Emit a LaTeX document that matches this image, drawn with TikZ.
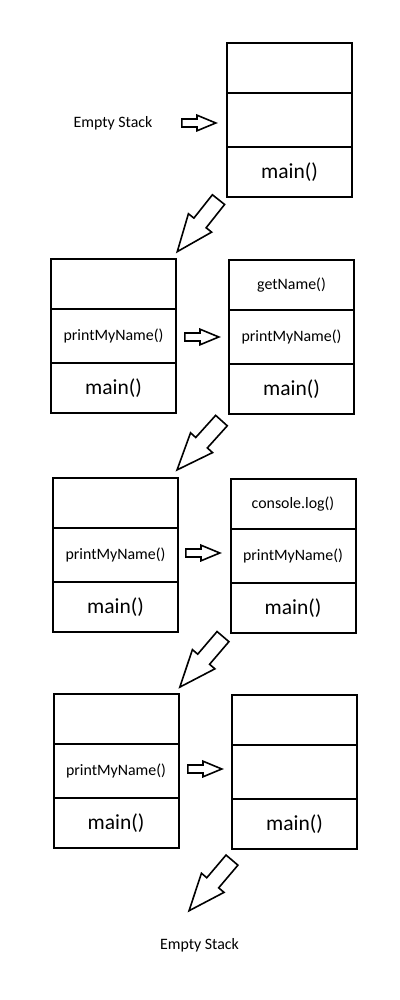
\documentclass[tikz,border=0pt]{standalone}
\usepackage{fontspec}
\setmainfont{Carlito}
\usetikzlibrary{shapes.arrows}

\begin{document}
\begin{tikzpicture}[
	cell/.style={rectangle, draw, line width=0.5mm, minimum width=3.125cm, inner sep=0pt, font=\fontsize{11.3}{13}\selectfont},
	tallcell/.style={cell, minimum height=1.35cm},
	shortcell/.style={cell, minimum height=1.25cm},
	maincell/.style={shortcell, font=\fontsize{15.3}{18}\selectfont},
	nextarrow/.style={single arrow, draw, line width=0.4mm, inner sep=0pt, text height=0pt, text depth=0pt, anchor=tail},
	pusharrow/.style={nextarrow, minimum height=0.85cm, inner ysep=0.08cm, single arrow head extend=0.095cm, single arrow tip angle=45},
	steparrow/.style={nextarrow, minimum height=1.66cm, inner ysep=0.175cm, single arrow head extend=0.175cm, single arrow tip angle=44}
	]
	\useasboundingbox (0, 0) rectangle (10, 25);

	\node[font=\fontsize{11.3}{13}\selectfont] (empty top) at (2.825, 21.925) {Empty Stack};
	\node[pusharrow] (push0) at (4.525, 21.925) {};

	\begin{scope}[xshift=7.2375cm, yshift=23.3cm]
		\node[shortcell] (s0-top) at (0, 0) {};
		\node[tallcell] (s0-mid) at (0, -1.3) {};
		\node[maincell] (s0-main) at (0, -2.6) {main()};
	\end{scope}

	\node[steparrow, rotate=231.6] (step0) at (5.475, 20.025) {};

	% printMyName() calls getName()
	\begin{scope}[xshift=2.8375cm, yshift=17.9cm]
		\node[shortcell] (s1-top) at (0, 0) {};
		\node[tallcell] (s1-mid) at (0, -1.3) {printMyName()};
		\node[maincell] (s1-main) at (0, -2.6) {main()};
	\end{scope}

	\node[pusharrow] (push1) at (4.6, 16.575) {};

	\begin{scope}[xshift=7.2875cm, yshift=17.875cm]
		\node[shortcell] (s2-top) at (0, 0) {getName()};
		\node[tallcell] (s2-mid) at (0, -1.3) {printMyName()};
		\node[maincell] (s2-main) at (0, -2.6) {main()};
	\end{scope}

	\node[steparrow, rotate=228] (step1) at (5.55, 14.5) {};

	% printMyName() calls console.log()
	\begin{scope}[xshift=2.8875cm, yshift=12.425cm]
		\node[shortcell] (s3-top) at (0, 0) {};
		\node[tallcell] (s3-mid) at (0, -1.3) {printMyName()};
		\node[maincell] (s3-main) at (0, -2.6) {main()};
	\end{scope}

	\node[pusharrow] (push2) at (4.625, 11.175) {};

	\begin{scope}[xshift=7.325cm, yshift=12.4cm]
		\node[shortcell] (s4-top) at (0, 0) {console.log()};
		\node[tallcell] (s4-mid) at (0, -1.3) {printMyName()};
		\node[maincell] (s4-main) at (0, -2.6) {main()};
	\end{scope}

	\node[steparrow, rotate=229.5] (step2) at (5.5875, 9.1) {};

	% printMyName() returns
	\begin{scope}[xshift=2.9cm, yshift=7.025cm]
		\node[shortcell] (s5-top) at (0, 0) {};
		\node[tallcell] (s5-mid) at (0, -1.3) {printMyName()};
		\node[maincell] (s5-main) at (0, -2.6) {main()};
	\end{scope}

	\node[pusharrow] (push3) at (4.675, 5.775) {};

	\begin{scope}[xshift=7.3625cm, yshift=7.0cm]
		\node[shortcell] (s6-top) at (0, 0) {};
		\node[tallcell] (s6-mid) at (0, -1.3) {};
		\node[maincell] (s6-main) at (0, -2.6) {main()};
	\end{scope}

	\node[steparrow, rotate=229.7] (step3) at (5.8125, 3.5125) {};

	\node[font=\fontsize{11.3}{13}\selectfont] (empty bottom) at (4.9875, 1.375) {Empty Stack};
\end{tikzpicture}
\end{document}
